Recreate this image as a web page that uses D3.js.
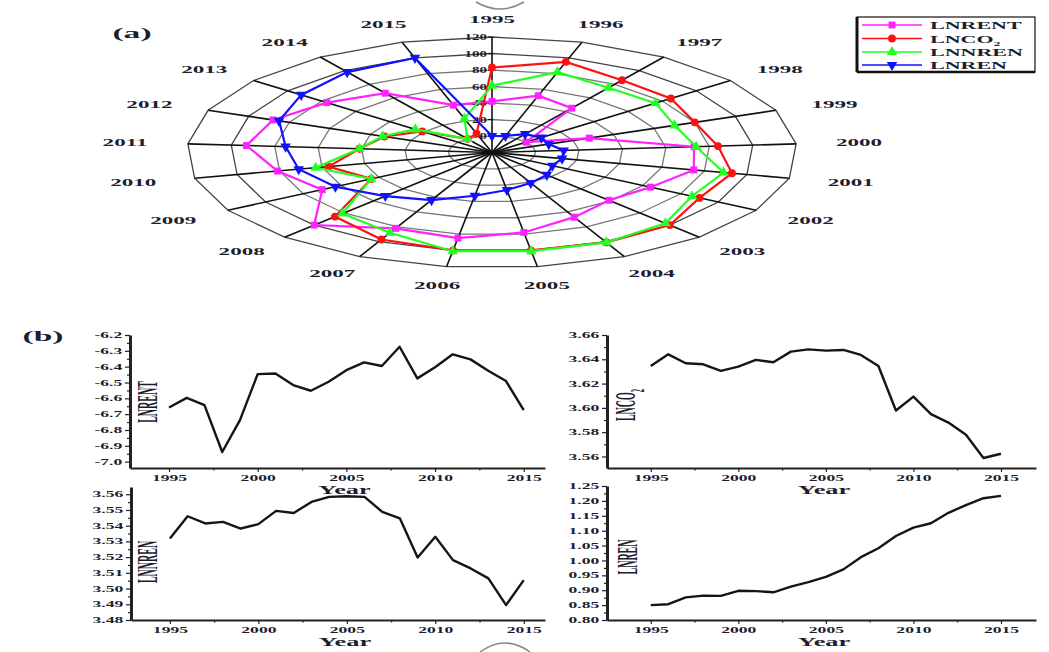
<!DOCTYPE html>
<html>
<head>
<meta charset="utf-8">
<script src="https://cdn.jsdelivr.net/npm/d3@7"></script>
<style>
    body { margin: 0; background: #fff; }
    text { font-family: "Liberation Serif", "DejaVu Serif", serif; font-weight: bold; fill: #1d1d2e; }
</style>
</head>
<body>
<div id="vis-holder"></div>
<script>
// years shared by both panels
const years = [1995, 1996, 1997, 1998, 1999, 2000, 2001, 2002, 2003, 2004, 2005,
    2006, 2007, 2008, 2009, 2010, 2011, 2012, 2013, 2014, 2015];

// (a) radar values, rescaled 0..100
const rentRadar = [42, 52, 45, 0, 28, 73, 75, 64, 59, 67, 78, 85, 82, 100, 70, 81, 93, 88, 77, 67, 40];
const co2Radar = [83, 95, 86, 85, 80, 84, 93, 90, 100, 101, 100, 100, 97, 86, 44, 57, 41, 33, 21, 0, 4];
const nrenRadar = [61, 82, 75, 76, 70, 74, 89, 86, 97, 101, 101, 101, 88, 81, 44, 63, 41, 34, 25, 0, 23];
const renRadar = [0, 1, 7, 9, 8, 13, 13, 12, 17, 21, 26, 33, 44, 52, 63, 71, 75, 85, 92, 98, 100];
const radarRings = [0, 20, 40, 60, 80, 100, 120];

// (b) raw series
const rent = [-6.658, -6.597, -6.643, -6.939, -6.738, -6.447, -6.443, -6.516, -6.552, -6.495, -6.422,
    -6.373, -6.396, -6.274, -6.474, -6.404, -6.322, -6.354, -6.426, -6.491, -6.675];
const co2 = [3.6345, 3.6441, 3.6367, 3.6359, 3.6304, 3.6340, 3.6395, 3.6376, 3.6463, 3.6482, 3.6471,
    3.6477, 3.6436, 3.6345, 3.5978, 3.6093, 3.5948, 3.5879, 3.5778, 3.5587, 3.5622];
const nren = [3.5319, 3.5460, 3.5414, 3.5424, 3.5382, 3.5410, 3.5494, 3.5481, 3.5551, 3.5583, 3.5587,
    3.5583, 3.5488, 3.5446, 3.5198, 3.5329, 3.5181, 3.5128, 3.5065, 3.4895, 3.5054];
const ren = [0.850, 0.853, 0.876, 0.882, 0.881, 0.898, 0.897, 0.893, 0.912, 0.927, 0.945,
    0.970, 1.011, 1.041, 1.082, 1.110, 1.125, 1.160, 1.186, 1.209, 1.217];

// tick labels
const rentTicks = [-7.0, -6.9, -6.8, -6.7, -6.6, -6.5, -6.4, -6.3, -6.2];
const co2Ticks = [3.56, 3.58, 3.60, 3.62, 3.64, 3.66];
const nrenTicks = [3.48, 3.49, 3.50, 3.51, 3.52, 3.53, 3.54, 3.55, 3.56];
const renTicks = [0.80, 0.85, 0.90, 0.95, 1.00, 1.05, 1.10, 1.15, 1.20, 1.25];
const yearTicks = [1995, 2000, 2005, 2010, 2015];
const yearMinor = [1997.5, 2002.5, 2007.5, 2012.5];

const SX = 2.0; // the figure is stretched sideways, so is its lettering

let svg = d3.select("#vis-holder")
    .append("svg")
    .attr("width", 1049)
    .attr("height", 652);

// stretched text helper
function label(g, x, y, str, size, sx, anchor) {
    return g.append("text")
        .attr("transform", "translate(" + x + "," + y + ") scale(" + sx + ",1)")
        .attr("text-anchor", anchor || "middle")
        .attr("font-size", size + "px")
        .text(str);
}

// ---------- (a) radar ----------
function radar() {
    let cx = 492, cy = 152.5, rx = 305, ry = 115.5;
    let r = d3.scaleLinear().domain([-20, 120]).range([0, 1]);
    let n = years.length;
    let g = svg.append("g");

    function pt(i, v) {
        let a = i * 2 * Math.PI / n, k = r(v);
        return [cx + rx * k * Math.sin(a), cy - ry * k * Math.cos(a)];
    }

    // rings
    g.selectAll(".ring")
        .data(radarRings)
        .enter()
        .append("path")
        .attr("d", function (v) {
            return d3.line().curve(d3.curveLinearClosed)(years.map(function (y, i) { return pt(i, v); }));
        })
        .attr("fill", "none")
        .attr("stroke", function (v) { return v >= 100 ? "#444" : "#777"; })
        .attr("stroke-width", 1.3);

    // spokes
    g.selectAll(".spoke")
        .data(years)
        .enter()
        .append("line")
        .attr("x1", cx).attr("y1", cy)
        .attr("x2", function (y, i) { return pt(i, 120)[0]; })
        .attr("y2", function (y, i) { return pt(i, 120)[1]; })
        .attr("stroke", "#111")
        .attr("stroke-width", 1.6);

    // radial tick labels on the 1995 spoke
    radarRings.forEach(function (v) {
        let p = pt(0, v);
        g.append("line").attr("x1", p[0] - 4).attr("x2", p[0]).attr("y1", p[1]).attr("y2", p[1])
            .attr("stroke", "#111");
        label(g, p[0] - 5, p[1] + 3, v, 7.5, SX, "end");
    });

    // year labels
    years.forEach(function (y, i) {
        let a = i * 2 * Math.PI / n;
        label(g, cx + 368 * Math.sin(a), cy - 134 * Math.cos(a) + 4, y, 11, SX + 0.1);
    });

    let series = [
        { name: "LNRENT", vals: rentRadar, color: "#ff22ff", sym: d3.symbolSquare, rot: 0 },
        { name: "LNCO2", vals: co2Radar, color: "#ff1111", sym: d3.symbolCircle, rot: 0 },
        { name: "LNNREN", vals: nrenRadar, color: "#22ff22", sym: d3.symbolTriangle, rot: 0 },
        { name: "LNREN", vals: renRadar, color: "#1111ff", sym: d3.symbolTriangle, rot: 180 }
    ];

    series.forEach(function (s) {
        let pts = s.vals.map(function (v, i) { return pt(i, v); });
        g.append("path")
            .attr("d", d3.line().curve(d3.curveLinearClosed)(pts))
            .attr("fill", "none")
            .attr("stroke", s.color)
            .attr("stroke-width", 2.2);
        g.selectAll(null)
            .data(pts)
            .enter()
            .append("path")
            .attr("d", d3.symbol().type(s.sym).size(48))
            .attr("transform", function (p) { return "translate(" + p[0] + "," + p[1] + ") rotate(" + s.rot + ")"; })
            .attr("fill", s.color);
    });

    // legend
    let lg = svg.append("g");
    lg.append("rect").attr("x", 857).attr("y", 17).attr("width", 178).attr("height", 55)
        .attr("fill", "#fff").attr("stroke", "#111").attr("stroke-width", 1.2);
    lg.append("line").attr("x1", 857).attr("x2", 857).attr("y1", 17).attr("y2", 72)
        .attr("stroke", "#111").attr("stroke-width", 3);
    lg.append("line").attr("x1", 857).attr("x2", 1035).attr("y1", 72).attr("y2", 72)
        .attr("stroke", "#111").attr("stroke-width", 2.5);
    let ly = [25, 38.5, 52, 65];
    series.forEach(function (s, i) {
        lg.append("line").attr("x1", 862).attr("x2", 922).attr("y1", ly[i]).attr("y2", ly[i])
            .attr("stroke", s.color).attr("stroke-width", 1.5);
        lg.append("path")
            .attr("d", d3.symbol().type(s.sym).size(48))
            .attr("transform", "translate(892," + ly[i] + ") rotate(" + s.rot + ")")
            .attr("fill", s.color);
        let t = label(lg, 930, ly[i] + 4, "", 11, SX, "start");
        if (s.name === "LNCO2") {
            t.append("tspan").text("LNCO");
            t.append("tspan").attr("font-size", "7px").attr("dy", 3).text("2");
        } else {
            t.text(s.name);
        }
    });

    label(svg, 132, 38, "(a)", 14, 2.4);
}

// ---------- (b) line panels ----------
function panel(c) {
    let g = svg.append("g");
    let x = d3.scaleLinear().domain(c.xDomain).range([c.left, c.right]);
    let y = d3.scaleLinear().domain(c.yDomain).range([c.bottom, c.top]);
    let fmt = d3.format(c.fmt);

    // y axis, major + minor ticks (plain hyphen for negatives)
    let ya = g.append("g").attr("transform", "translate(" + c.left + ",0)")
        .call(d3.axisLeft(y).tickValues(c.ticks)
            .tickFormat(function (d) { return fmt(d).replace("\u2212", "-"); })
            .tickSize(5).tickSizeOuter(0));
    ya.select(".domain").attr("stroke-width", 3).attr("stroke", "#222");
    ya.selectAll("text")
        .attr("x", -7 / SX)
        .attr("transform", "scale(" + (SX + 0.2) + ",1)")
        .attr("font-size", "8px")
        .attr("font-family", null);
    let minor = [];
    for (let i = 0; i < c.ticks.length - 1; i++) minor.push((c.ticks[i] + c.ticks[i + 1]) / 2);
    g.append("g").attr("transform", "translate(" + c.left + ",0)")
        .call(d3.axisLeft(y).tickValues(minor).tickFormat("").tickSize(3).tickSizeOuter(0))
        .select(".domain").remove();

    // x axis
    let xa = g.append("g").attr("transform", "translate(0," + c.bottom + ")")
        .call(d3.axisBottom(x).tickValues(yearTicks).tickFormat(d3.format("d")).tickSize(4).tickSizeOuter(0));
    xa.select(".domain").attr("stroke-width", 2).attr("stroke", "#222");
    xa.selectAll("text")
        .attr("transform", "scale(" + (SX + 0.2) + ",1)")
        .attr("font-size", "8px")
        .attr("font-family", null);
    g.append("g").attr("transform", "translate(0," + c.bottom + ")")
        .call(d3.axisBottom(x).tickValues(yearMinor).tickFormat("").tickSize(2.5).tickSizeOuter(0))
        .select(".domain").remove();

    g.selectAll(".tick line").attr("stroke", "#222").attr("stroke-width", 1.2);

    // the series line
    g.append("path")
        .datum(c.values)
        .attr("d", d3.line()
            .x(function (d, i) { return x(years[i]); })
            .y(function (d) { return y(d); }))
        .attr("fill", "none")
        .attr("stroke", "#151515")
        .attr("stroke-width", 2.4)
        .attr("stroke-linejoin", "round");

    // titles
    label(g, x(2005) - 2, c.bottom + 26, "Year", 12, 2.2);
    let t = g.append("text")
        .attr("transform", "translate(" + c.titleX + "," + c.titleY + ") scale(3,1) rotate(-90)")
        .attr("text-anchor", "middle")
        .attr("font-size", "10px");
    if (c.sub) {
        t.append("tspan").text(c.title);
        t.append("tspan").attr("font-size", "6.5px").attr("dy", 3).text(c.sub);
    } else {
        t.text(c.title);
    }
}

radar();

panel({ left: 130, right: 545, top: 335, bottom: 468, xDomain: [1992.8, 2016.2], yDomain: [-7.04, -6.2],
    ticks: rentTicks, fmt: ".1f", values: rent, title: "LNRENT", titleX: 157, titleY: 402 });
panel({ left: 607, right: 1036, top: 335, bottom: 468, xDomain: [1992.5, 2017], yDomain: [3.5505, 3.66],
    ticks: co2Ticks, fmt: ".2f", values: co2, title: "LNCO", sub: "2", titleX: 635, titleY: 405 });
panel({ left: 131, right: 545, top: 487, bottom: 620, xDomain: [1992.8, 2016.2], yDomain: [3.48, 3.5646],
    ticks: nrenTicks, fmt: ".2f", values: nren, title: "LNNREN", titleX: 157, titleY: 562 });
panel({ left: 607, right: 1036, top: 486, bottom: 620, xDomain: [1992.5, 2017], yDomain: [0.80, 1.25],
    ticks: renTicks, fmt: ".2f", values: ren, title: "LNREN", titleX: 637, titleY: 557 });

label(svg, 43, 341, "(b)", 14, 2.4);

// scan marks at the top and bottom edge
svg.append("path").attr("d", "M476,2 Q500,16 524,2").attr("fill", "none").attr("stroke", "#888").attr("stroke-width", 1.5);
svg.append("path").attr("d", "M480,652 Q505,634 530,652").attr("fill", "none").attr("stroke", "#888").attr("stroke-width", 1.5);
</script>
</body>
</html>
